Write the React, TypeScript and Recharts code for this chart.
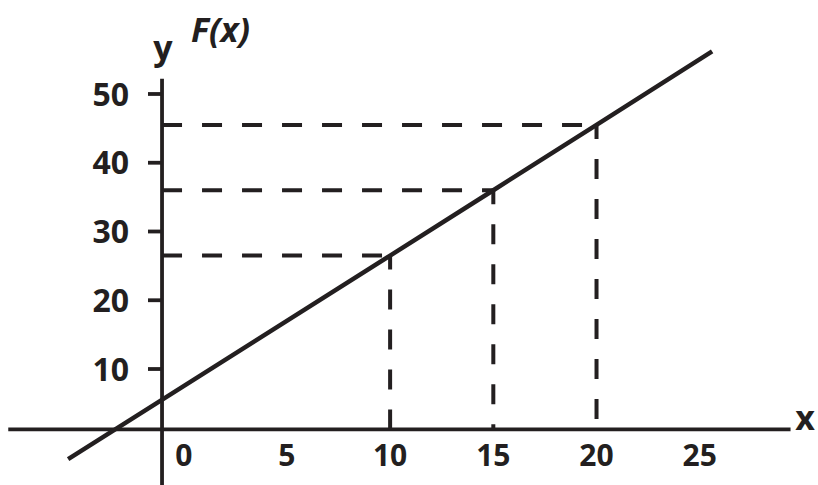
import React from 'react';
import { LineChart, Line, XAxis, YAxis, ReferenceLine } from 'recharts';

// line F(x) and the three read-off points
const lineX = [-5.6, 10, 15, 20, 25.6];
const lineY = [-3.1, 26.5, 36, 45.5, 56.2];
const guideX = [10, 15, 20];
const guideY = [26.5, 36, 45.5];
const xTicks = [0, 5, 10, 15, 20, 25];
const yTicks = [10, 20, 30, 40, 50];

const data = lineX.map((x, i) => ({ x, y: lineY[i] }));

// where the drawn axes cross (the figure is hand drawn, not exactly at 0,0)
const AXIS_X = -1.05;
const AXIS_Y = 1.23;

const INK = '#231f20';
const FONT = '"Open Sans", sans-serif';

const XTick = (props: any) => (
  <text x={props.x} y={466} textAnchor="middle" fontFamily={FONT} fontWeight={700} fontSize={30} fill={INK}>
    {props.payload.value}
  </text>
);

const YTick = (props: any) => (
  <text x={129} y={props.y} dy="0.36em" textAnchor="end" fontFamily={FONT} fontWeight={700} fontSize={32} fill={INK}>
    {props.payload.value}
  </text>
);

const App: React.FC = () => {
  return (
    <div style={{ position: 'absolute', left: 0, top: 0, width: 818, height: 485, background: '#fff', overflow: 'hidden' }}>
      <LineChart width={818} height={485} data={data} margin={{ top: 0, right: 0, bottom: -1, left: -1 }}>
        <XAxis
          dataKey="x"
          type="number"
          domain={[-8.9, 30.73]}
          allowDataOverflow
          ticks={xTicks}
          interval={0}
          height={1}
          axisLine={false}
          tickLine={false}
          tick={<XTick />}
        />
        <YAxis
          type="number"
          domain={[-6.87, 63.67]}
          allowDataOverflow
          ticks={yTicks}
          interval={0}
          width={1}
          axisLine={false}
          tickLine={false}
          tick={<YTick />}
        />

        {/* axes */}
        <ReferenceLine segment={[{ x: -8.5, y: AXIS_Y }, { x: 29.4, y: AXIS_Y }]} stroke={INK} strokeWidth={3.8} />
        <ReferenceLine segment={[{ x: AXIS_X, y: 52.2 }, { x: AXIS_X, y: -6.87 }]} stroke={INK} strokeWidth={3.8} />
        {yTicks.map((v) => (
          <ReferenceLine key={`yt-${v}`} segment={[{ x: AXIS_X - 0.68, y: v }, { x: AXIS_X, y: v }]} stroke={INK} strokeWidth={3.8} />
        ))}

        {/* dashed read-off lines */}
        {guideX.map((gx, i) => (
          <ReferenceLine
            key={`h-${gx}`}
            segment={[{ x: AXIS_X, y: guideY[i] }, { x: gx, y: guideY[i] }]}
            stroke={INK}
            strokeWidth={4}
            strokeDasharray="20 20"
          />
        ))}
        {guideX.map((gx, i) => (
          <ReferenceLine
            key={`v-${gx}`}
            segment={[{ x: gx, y: guideY[i] }, { x: gx, y: AXIS_Y }]}
            stroke={INK}
            strokeWidth={4}
            strokeDasharray="20 20"
            strokeDashoffset={6}
          />
        ))}

        <Line dataKey="y" type="linear" stroke={INK} strokeWidth={4.5} dot={false} activeDot={false} isAnimationActive={false} />

        <text x={805} y={430} textAnchor="middle" fontFamily={FONT} fontWeight={700} fontSize={34} fill={INK}>x</text>
        <text x={163} y={60} textAnchor="middle" fontFamily={FONT} fontWeight={700} fontSize={34} fill={INK}>y</text>
        <text x={191} y={42} fontFamily={FONT} fontWeight={700} fontStyle="italic" fontSize={34} fill={INK}>F(x)</text>
      </LineChart>
    </div>
  );
};

export default App;
